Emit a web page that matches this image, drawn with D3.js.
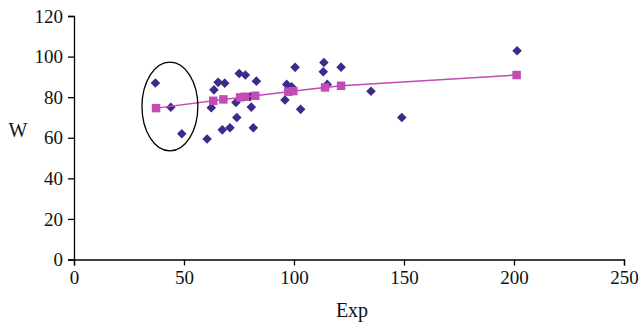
<!DOCTYPE html>
<html>
<head>
<meta charset="utf-8">
<script src="https://cdn.jsdelivr.net/npm/d3@7"></script>
<style>
  html, body { margin: 0; padding: 0; background: #fff; }
  svg { display: block; }
</style>
</head>
<body>
<div id="chart"></div>
<script>
// Observed points (Exp, W)
const obsExp = [37, 44, 49, 60.5, 62.4, 63.6, 65.5, 67.4, 68.5, 70.9, 73.6, 74, 75.1, 77.9, 80, 80.6, 81.5, 82.9,
                95.9, 96.7, 98.9, 100.5, 103, 113.3, 113.6, 115.1, 121.4, 135, 149, 201.4];
const obsW   = [87, 75, 62, 59.4, 74.8, 83.6, 87.3, 63.9, 86.9, 64.9, 77.4, 70, 91.7, 90.9, 80.2, 75.1, 64.9, 87.9,
                78.6, 86.3, 85.1, 94.7, 74, 92.5, 97.1, 86.3, 94.8, 82.9, 70, 102.9];

// Predicted values (squares joined by the line)
const predExp = [37.3, 63.3, 67.9, 75.5, 77.7, 82.4, 97.4, 99.7, 114.1, 121.4, 201.2];
const predW   = [74.6, 78.2, 78.9, 79.9, 80.2, 80.7, 82.7, 83.0, 84.8, 85.6, 90.9];

// Highlighted group (ellipse): centre and radii in data units
const ringCentre = [43.6, 75.4];
const ringRadius = [12.7, 21.9];

const xTicks = [0, 50, 100, 150, 200, 250];
const yTicks = [0, 20, 40, 60, 80, 100, 120];

const width = 640;
const height = 325;
const font = '"Liberation Serif", "Times New Roman", serif';

const svg = d3.select('#chart')
  .append('svg')
  .attr('width', width)
  .attr('height', height);

const x = d3.scaleLinear().domain([0, 250]).range([74, 624]);
const y = d3.scaleLinear().domain([0, 120]).range([259.5, 16]);

// Y axis
const yAxis = svg.append('g')
  .attr('transform', `translate(${x(0)},0)`)
  .call(d3.axisLeft(y).tickValues(yTicks).tickSize(6).tickPadding(5).tickFormat(d3.format('d')));

// X axis
const xAxis = svg.append('g')
  .attr('transform', `translate(0,${y(0)})`)
  .call(d3.axisBottom(x).tickValues(xTicks).tickSize(6).tickPadding(5).tickFormat(d3.format('d')));

svg.selectAll('.domain').attr('stroke', '#000').attr('stroke-width', 1.3);
svg.selectAll('.tick line').attr('stroke', '#000').attr('stroke-width', 1.3);
svg.selectAll('.tick text')
  .attr('fill', '#111')
  .style('font-family', font)
  .style('font-size', '19px');

// Axis titles
svg.append('text')
  .attr('x', (x(0) + x(250)) / 2 + 3)
  .attr('y', 317)
  .attr('text-anchor', 'middle')
  .style('font-family', font)
  .style('font-size', '20px')
  .attr('fill', '#111')
  .text('Exp');

svg.append('text')
  .attr('x', 18)
  .attr('y', 137)
  .attr('text-anchor', 'middle')
  .style('font-family', font)
  .style('font-size', '20px')
  .attr('fill', '#111')
  .text('W');

// Observed: diamonds
const obs = obsExp.map((e, i) => ({ e, w: obsW[i] }));
const diamond = d3.symbol().type(d3.symbolSquare).size(46);
svg.append('g')
  .selectAll('path')
  .data(obs)
  .join('path')
  .attr('d', diamond)
  .attr('transform', d => `translate(${x(d.e)},${y(d.w)}) rotate(45)`)
  .attr('fill', '#3a2b8c');

// Predicted: line + squares
const pred = predExp.map((e, i) => ({ e, w: predW[i] }));
svg.append('path')
  .datum(pred)
  .attr('d', d3.line().x(d => x(d.e)).y(d => y(d.w)))
  .attr('fill', 'none')
  .attr('stroke', '#c04cb4')
  .attr('stroke-width', 1.5);

const square = d3.symbol().type(d3.symbolSquare).size(72);
svg.append('g')
  .selectAll('path')
  .data(pred)
  .join('path')
  .attr('d', square)
  .attr('transform', d => `translate(${x(d.e)},${y(d.w)})`)
  .attr('fill', '#c04cb4');

// Ellipse around the low-Exp group
svg.append('ellipse')
  .attr('cx', x(ringCentre[0]))
  .attr('cy', y(ringCentre[1]))
  .attr('rx', x(ringCentre[0] + ringRadius[0]) - x(ringCentre[0]))
  .attr('ry', y(ringCentre[1] - ringRadius[1]) - y(ringCentre[1]))
  .attr('fill', 'none')
  .attr('stroke', '#000')
  .attr('stroke-width', 1.3);
</script>
</body>
</html>
